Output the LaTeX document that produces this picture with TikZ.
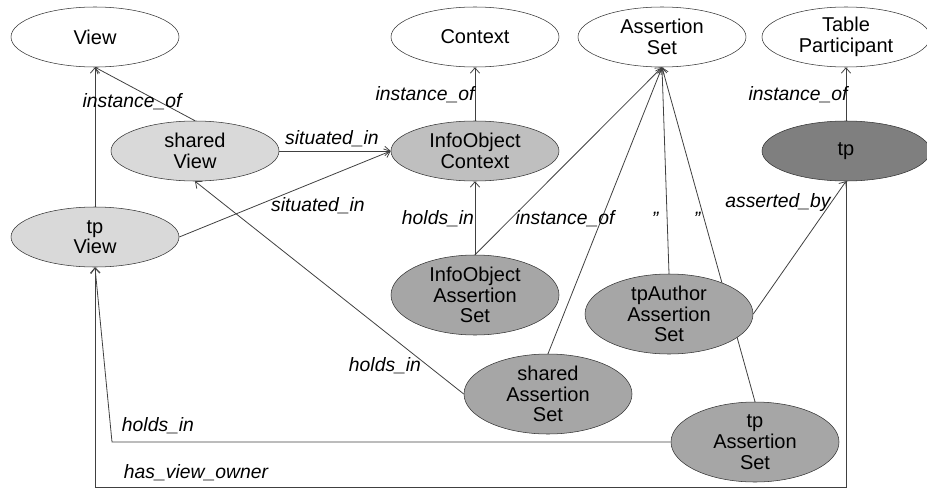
\documentclass[tikz,border=0pt]{standalone}
\usepackage{fontspec}
\setmainfont{Liberation Sans}
\usetikzlibrary{shapes.geometric, arrows.meta}
\pgfdeclarelayer{edges}
\pgfsetlayers{edges,main}
\definecolor{lightfill}{HTML}{D9D9D9}
\definecolor{midfill}{HTML}{BFBFBF}
\definecolor{setfill}{HTML}{A6A6A6}
\definecolor{darkfill}{HTML}{7F7F7F}
\definecolor{edgegray}{HTML}{404040}
\tikzset{concept/.style={ellipse,draw=black!80,fill=white,minimum width=126pt,minimum height=45pt,inner sep=0pt,
                         align=center,font=\fontsize{15}{15.5}\selectfont},
         tall/.style={concept,minimum height=60pt},
         rel/.style={font=\fontsize{14.5}{15}\selectfont\itshape,inner sep=0pt},
         link/.style={draw=edgegray,line width=0.6pt},
         arr/.style={link,-{Straight Barb[length=4pt,width=7pt]}},
        }

\begin{document}
\begin{tikzpicture}[x=0.75pt,y=-0.75pt]
        \useasboundingbox (0,0) rectangle (927,489);
        \coordinate (hbend) at (112,442);
        \coordinate (own) at (0,487);

        \node[concept](view)at(95,37){View};
        \node[concept](ctx)at(475,37){Context};
        \node[concept](aset)at(662,37){Assertion\\Set};
        \node[concept](tpart)at(846,37){Table\\Participant};
        \node[concept,fill=lightfill](sview)at(195,151){shared\\View};
        \node[concept,fill=lightfill](tpview)at(95,237){tp\\View};
        \node[concept,fill=midfill](ioctx)at(475,151){InfoObject\\Context};
        \node[concept,fill=darkfill](tp)at(846,151){tp};
        \node[tall,fill=setfill](ioas)at(475,295){InfoObject\\Assertion\\Set};
        \node[tall,fill=setfill](tpa)at(669,314){tpAuthor\\Assertion\\Set};
        \node[tall,fill=setfill](sas)at(548,394){shared\\Assertion\\Set};
        \node[tall,fill=setfill](tpas)at(755,442){tp\\Assertion\\Set};

        \begin{pgfonlayer}{edges}
        \draw[arr](tpview)--(view);
        \draw[arr](sview.north)--(view.south);
        \draw[arr](sview)--(ioctx);
        \draw[arr](tpview.east)--(ioctx.west);
        \draw[arr](ioctx)--(ctx);
        \draw[arr](ioas)--(ioctx);
        \draw[arr](ioas.north)--(aset.south);
        \draw[arr](sas.north)--(aset.south);
        \draw[arr](tpa.north)--(aset.south);
        \draw[arr](tpas.north)--(aset.south);
        \draw[arr](tp)--(tpart);
        \draw[arr](tpa.east)--(tp.south);
        \draw[arr](sas.west)--(sview.south);
        \draw[arr](tpas.west)--(hbend)--(tpview.south);
        \draw[arr](tp.south)--(tp.south |- own)--(tpview.south |- own)--(tpview.south);
        \end{pgfonlayer}

        \node[rel](i1)at(132,102){instance\_of};
        \node[rel](s1)at(332,139){situated\_in};
        \node[rel](s2)at(318,206){situated\_in};
        \node[rel](i2)at(425,95){instance\_of};
        \node[rel](h1)at(438,219){holds\_in};
        \node[rel](i3)at(565,219){instance\_of};
        \node[rel](q1)at(655,219){"};
        \node[rel](q2)at(697,219){"};
        \node[rel](i4)at(798,95){instance\_of};
        \node[rel](a1)at(778,202){asserted\_by};
        \node[rel](h2)at(385,366){holds\_in};
        \node[rel](h3)at(158,426){holds\_in};
        \node[rel](o1)at(196,473){has\_view\_owner};
    \end{tikzpicture}
\end{document}
